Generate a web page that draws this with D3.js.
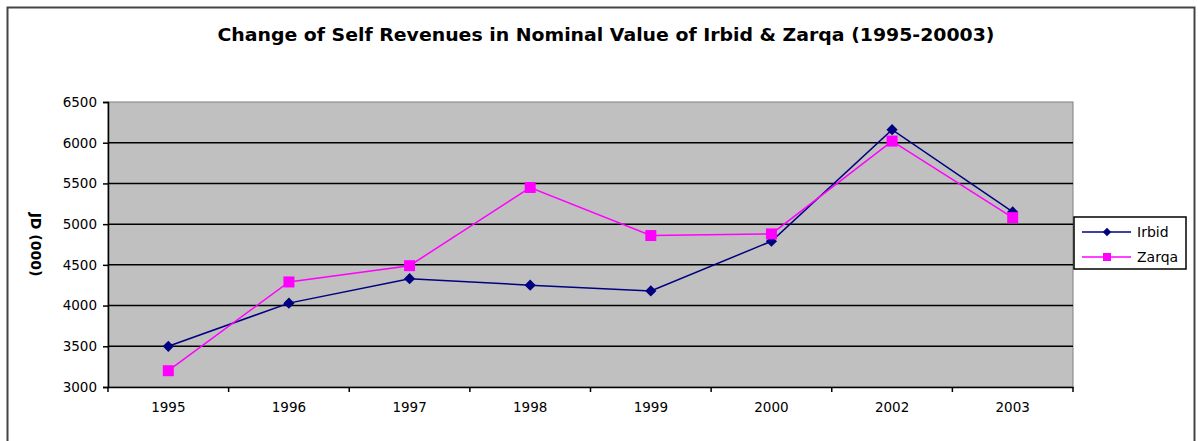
<!DOCTYPE html>
<html>
<head>
<meta charset="utf-8">
<script src="https://cdn.jsdelivr.net/npm/d3@7"></script>
<style>
  body { margin: 0; background: #fff; }
  text { font-family: "DejaVu Sans", Verdana, sans-serif; }
</style>
</head>
<body>
<div id="chart"></div>
<script>
// data
const years = ["1995", "1996", "1997", "1998", "1999", "2000", "2002", "2003"];
const irbid = [3500, 4030, 4330, 4250, 4180, 4790, 6160, 5150];
const zarqa = [3200, 4290, 4490, 5450, 4860, 4880, 6020, 5080];
const yTicks = [3000, 3500, 4000, 4500, 5000, 5500, 6000, 6500];

const W = 1198, H = 441;
const margin = {top: 102, right: 125, bottom: 54, left: 108};
const width = W - margin.left - margin.right,
    height = H - margin.top - margin.bottom;

const svg = d3.select("#chart").append("svg")
    .attr("width", W)
    .attr("height", H);

// outer chart border
svg.append("rect")
    .attr("x", 7.5).attr("y", 7.5)
    .attr("width", 1187).attr("height", 450)
    .attr("fill", "none")
    .attr("stroke", "#444")
    .attr("stroke-width", 2);

svg.append("text")
    .attr("x", 606).attr("y", 41)
    .attr("text-anchor", "middle")
    .attr("font-size", "17px")
    .attr("font-weight", "bold")
    .attr("textLength", 777)
    .attr("lengthAdjust", "spacingAndGlyphs")
    .text("Change of Self Revenues in Nominal Value of Irbid & Zarqa (1995-20003)");

const g = svg.append("g")
    .attr("transform", `translate(${margin.left}, ${margin.top})`);

let x = d3.scaleBand().domain(years).range([0, width]);
let y = d3.scaleLinear().domain([3000, 6500]).range([height, 0]);

// plot area
g.append("rect")
    .attr("width", width).attr("height", height)
    .attr("fill", "#c0c0c0")
    .attr("stroke", "#808080");

// gridlines
g.selectAll(".grid")
    .data(yTicks.slice(1, -1))
    .enter().append("line")
    .attr("x1", 0).attr("x2", width)
    .attr("y1", d => y(d)).attr("y2", d => y(d))
    .attr("stroke", "#000")
    .attr("stroke-width", 1.5);

// axes
let yAxis = g.append("g")
    .call(d3.axisLeft(y).tickValues(yTicks).tickSize(5).tickPadding(6).tickFormat(d3.format("d")));
let xAxis = g.append("g")
    .attr("transform", `translate(0, ${height})`)
    .call(d3.axisBottom(x).tickSize(0).tickPadding(15));

// category separator ticks
xAxis.selectAll(".sep")
    .data(years.concat(["end"]))
    .enter().append("line")
    .attr("x1", (d, i) => i * x.bandwidth()).attr("x2", (d, i) => i * x.bandwidth())
    .attr("y1", 0).attr("y2", 5)
    .attr("stroke", "#000").attr("stroke-width", 1.5);

[yAxis, xAxis].forEach(a => {
    a.selectAll(".domain").attr("stroke", "#000").attr("stroke-width", 1.5);
    a.selectAll(".tick line").attr("stroke", "#000").attr("stroke-width", 1.5);
    a.selectAll("text").attr("font-size", "13.5px").attr("fill", "#000")
        .style("font-family", "'DejaVu Sans', Verdana, sans-serif");
});

svg.append("text")
    .attr("transform", `translate(31, ${margin.top + height / 2}) rotate(90)`)
    .attr("text-anchor", "middle")
    .attr("font-size", "14px")
    .attr("font-weight", "bold")
    .text("JD (000)");

const cx = d => x(d) + x.bandwidth() / 2;

let line = d3.line()
    .x((d, i) => cx(years[i]))
    .y(d => y(d));

g.append("path")
    .datum(irbid)
    .attr("d", line)
    .attr("fill", "none")
    .attr("stroke", "#000080")
    .attr("stroke-width", 1.5);

g.append("path")
    .datum(zarqa)
    .attr("d", line)
    .attr("fill", "none")
    .attr("stroke", "#ff00ff")
    .attr("stroke-width", 1.5);

const diamond = d3.symbol().type(d3.symbolDiamond2).size(80);

g.selectAll(".irbid")
    .data(irbid)
    .enter().append("path")
    .attr("transform", (d, i) => `translate(${cx(years[i])}, ${y(d)})`)
    .attr("d", diamond)
    .attr("fill", "#000080");

g.selectAll(".zarqa")
    .data(zarqa)
    .enter().append("rect")
    .attr("x", (d, i) => cx(years[i]) - 5.5)
    .attr("y", d => y(d) - 5.5)
    .attr("width", 11).attr("height", 11)
    .attr("fill", "#ff00ff");

// legend
let legend = svg.append("g").attr("transform", "translate(1074, 217)");
legend.append("rect")
    .attr("width", 112).attr("height", 52)
    .attr("fill", "#fff")
    .attr("stroke", "#000")
    .attr("stroke-width", 1.5);

legend.append("line")
    .attr("x1", 8).attr("x2", 57).attr("y1", 15).attr("y2", 15)
    .attr("stroke", "#000080").attr("stroke-width", 1.5);
legend.append("path")
    .attr("transform", "translate(33, 15)")
    .attr("d", d3.symbol().type(d3.symbolDiamond2).size(45))
    .attr("fill", "#000080");
legend.append("text")
    .attr("x", 63).attr("y", 20)
    .attr("font-size", "14px")
    .text("Irbid");

legend.append("line")
    .attr("x1", 8).attr("x2", 57).attr("y1", 40).attr("y2", 40)
    .attr("stroke", "#ff00ff").attr("stroke-width", 1.5);
legend.append("rect")
    .attr("x", 29).attr("y", 36)
    .attr("width", 8).attr("height", 8)
    .attr("fill", "#ff00ff");
legend.append("text")
    .attr("x", 63).attr("y", 45)
    .attr("font-size", "14px")
    .text("Zarqa");
</script>
</body>
</html>
